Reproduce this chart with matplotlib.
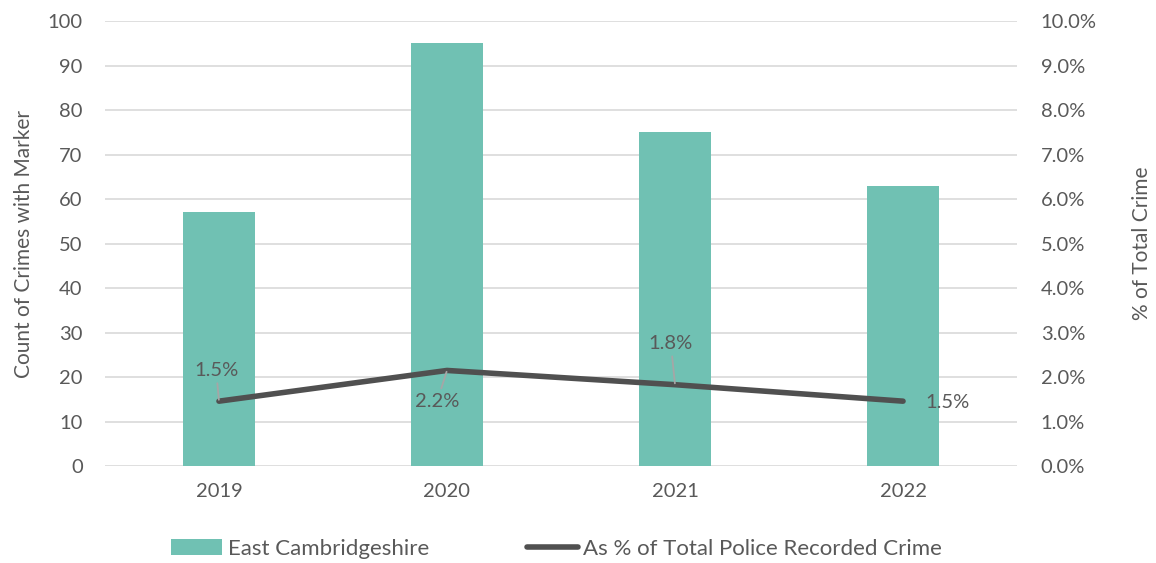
import matplotlib.pyplot as plt
from matplotlib.ticker import FuncFormatter

plt.rcParams['font.family'] = ['Lato', 'DejaVu Sans']

years = ['2019', '2020', '2021', '2022']
counts = [57, 95, 75, 63]
pct = [1.46, 2.15, 1.83, 1.46]
pct_labels = ['1.5%', '2.2%', '1.8%', '1.5%']

bar_color = '#70C1B3'
line_color = '#505050'
text_color = '#595959'
grid_color = '#D9D9D9'

fig = plt.figure(figsize=(11.56, 5.63), dpi=100)
ax1 = fig.add_axes([0.0908, 0.172, 0.789, 0.7907])
ax2 = ax1.twinx()

x = range(len(years))
ax1.bar(x, counts, width=0.315, color=bar_color, label='East Cambridgeshire', zorder=2)
ax1.set_ylim(0, 100)
ax1.set_yticks(range(0, 101, 10))
ax1.set_xlim(-0.5, 3.5)
ax1.set_xticks(list(x))
ax1.set_xticklabels(years)
ax1.grid(axis='y', color=grid_color, linewidth=1.2, zorder=0)
ax1.set_axisbelow(True)
ax1.set_ylabel('Count of Crimes with Marker', fontsize=15, color=text_color)
ax1.yaxis.set_label_coords(-0.078, 0.5)

ax2.plot(x, pct, color=line_color, linewidth=4, solid_capstyle='round',
         label='As % of Total Police Recorded Crime', zorder=3)
ax2.set_ylim(0, 10)
ax2.set_yticks(range(0, 11))
ax2.yaxis.set_major_formatter(FuncFormatter(lambda v, p: f'{v:.1f}%'))
ax2.set_ylabel('% of Total Crime', fontsize=15, color=text_color)
ax2.yaxis.set_label_coords(1.126, 0.5)

for ax in (ax1, ax2):
    for s in ax.spines.values():
        s.set_visible(False)
    ax.tick_params(length=0, labelsize=14.5, colors=text_color)
ax1.tick_params(axis='x', pad=12)
ax1.tick_params(axis='y', pad=16)
ax2.tick_params(axis='y', pad=17)

# data labels (offsets in points), with leader lines
offsets = [(-2, 22), (-7, -22), (-3, 29.5), (32, -1)]
for i, (v, lab, off) in enumerate(zip(pct, pct_labels, offsets)):
    props = None
    if i < 3:
        props = dict(arrowstyle='-', color='#A6A6A6', lw=1.3, shrinkA=1, shrinkB=1)
    ax2.annotate(lab, (i, v), xytext=off, textcoords='offset points',
                 ha='center', va='center', fontsize=14.5, color=text_color,
                 arrowprops=props, zorder=4)

h1, l1 = ax1.get_legend_handles_labels()
h2, l2 = ax2.get_legend_handles_labels()
fig.legend(h1 + h2, l1 + l2, loc='center', bbox_to_anchor=(0.4814, 0.025), ncol=2,
           frameon=False, fontsize=16, labelcolor=text_color, columnspacing=4.4,
           handlelength=2.3, handletextpad=0.25)

fig.savefig('out.png', dpi=100)
